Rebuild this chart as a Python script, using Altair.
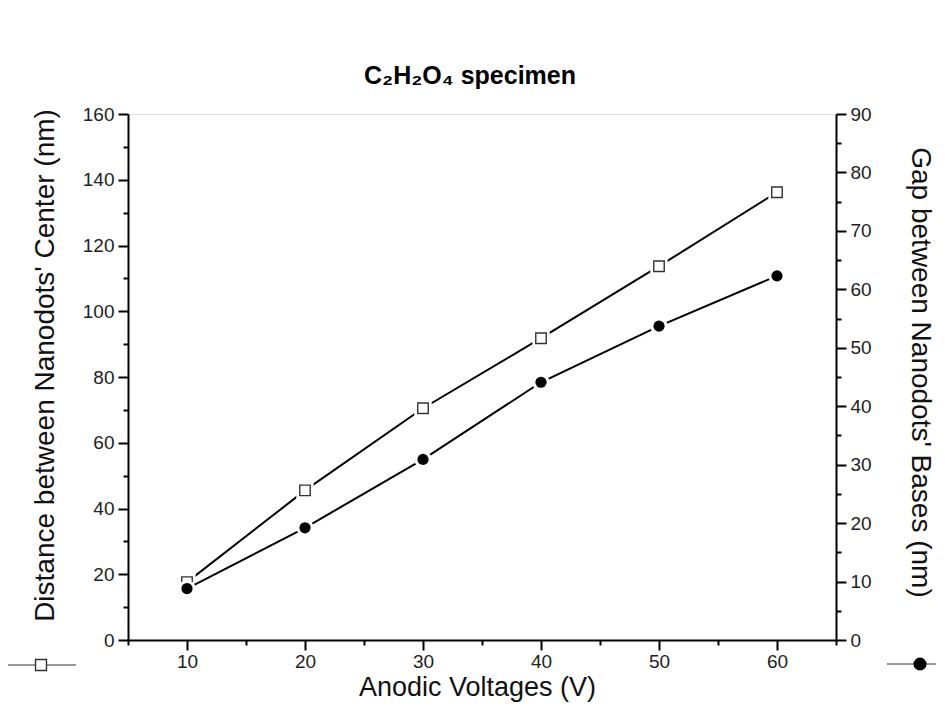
import altair as alt
import pandas as pd

# ---- data ----
voltage = [10, 20, 30, 40, 50, 60]
distance = [17.6, 45.5, 70.5, 91.8, 113.7, 136.2]   # left axis, hollow squares
gap = [8.8, 19.2, 30.9, 44.1, 53.7, 62.3]            # right axis, filled circles

x_ticks = [5, 10, 15, 20, 25, 30, 35, 40, 45, 50, 55, 60, 65]
left_ticks = [0, 10, 20, 30, 40, 50, 60, 70, 80, 90, 100, 110, 120, 130, 140, 150, 160]
right_ticks = [0, 5, 10, 15, 20, 25, 30, 35, 40, 45, 50, 55, 60, 65, 70, 75, 80, 85, 90]

title_text = "C\u2082H\u2082O\u2084 specimen"
x_title = "Anodic Voltages (V)"
left_title = "Distance between Nanodots' Center (nm)"
right_title = "Gap between Nanodots' Bases (nm)"

df = pd.DataFrame({"voltage": voltage, "distance": distance, "gap": gap})
one = pd.DataFrame({"k": [0]})

FONT = "Liberation Sans"
W, H = 708, 526


def tick_size(step):
    return {"condition": {"test": f"datum.value % {step} === 0", "value": 10}, "value": 5}


common_axis = dict(
    domainColor="black", domainWidth=2, tickColor="black", tickWidth=2,
    labelFont=FONT, labelFontSize=19, labelColor="#222",
    titleFont=FONT, titleFontWeight="normal", titleColor="#111",
    grid=False,
)

x_enc = alt.X(
    "voltage:Q",
    scale=alt.Scale(domain=[5, 65], nice=False, zero=False),
    axis=alt.Axis(
        values=x_ticks,
        labelExpr="datum.value % 10 === 0 ? datum.label : ''",
        tickSize=tick_size(10),
        labelPadding=2,
        title=x_title, titleFontSize=27, titleX=349, titleY=47,
        titleBaseline="middle", titleAlign="center",
        **common_axis,
    ),
)

y_left = alt.Y(
    "distance:Q",
    scale=alt.Scale(domain=[0, 160], nice=False),
    axis=alt.Axis(
        orient="left",
        values=left_ticks,
        labelExpr="datum.value % 20 === 0 ? datum.label : ''",
        tickSize=tick_size(20),
        labelPadding=4,
        title=left_title, titleFontSize=28, titleX=-83, titleY=251, titleAngle=-90,
        titleBaseline="middle", titleAlign="center",
        **common_axis,
    ),
)

y_right = alt.Y(
    "gap:Q",
    scale=alt.Scale(domain=[0, 90], nice=False),
    axis=alt.Axis(
        orient="right",
        values=right_ticks,
        labelExpr="datum.value % 10 === 0 ? datum.label : ''",
        tickSize=tick_size(10),
        labelPadding=4,
        title=right_title, titleFontSize=28, titleX=83, titleY=258, titleAngle=90,
        titleBaseline="middle", titleAlign="center",
        **common_axis,
    ),
)

base = alt.Chart(df)

left_line = base.mark_line(color="black", strokeWidth=2).encode(x=x_enc, y=y_left)
left_bg = base.mark_point(shape="square", size=300, filled=True, color="white", opacity=1).encode(x=x_enc, y=y_left)
left_pts = base.mark_point(shape="square", size=110, filled=False, fill="white",
                           stroke="#333", strokeWidth=1.4, opacity=1).encode(x=x_enc, y=y_left)

right_line = base.mark_line(color="black", strokeWidth=2).encode(x=x_enc, y=y_right)
right_bg = base.mark_point(shape="circle", size=300, filled=True, color="white", opacity=1).encode(x=x_enc, y=y_right)
right_pts = base.mark_point(shape="circle", size=125, filled=True, color="black", opacity=1).encode(x=x_enc, y=y_right)

# symbol keys drawn outside the plot, next to each axis
key_l_line = alt.Chart(one).mark_rule(color="#333", strokeWidth=1).encode(
    x=alt.value(-120), x2=alt.value(-52), y=alt.value(551))
key_l_pt = alt.Chart(one).mark_point(shape="square", size=120, filled=False, fill="white",
                                      stroke="#333", strokeWidth=1.4, opacity=1).encode(
    x=alt.value(-87), y=alt.value(551))
key_r_line = alt.Chart(one).mark_rule(color="#333", strokeWidth=1).encode(
    x=alt.value(759), x2=alt.value(808), y=alt.value(550))
key_r_pt = alt.Chart(one).mark_point(shape="circle", size=170, filled=True, color="black", opacity=1).encode(
    x=alt.value(792), y=alt.value(550))

left_layer = alt.layer(left_line, left_bg, left_pts)
right_layer = alt.layer(right_line, right_bg, right_pts)

chart = (
    alt.layer(left_layer, right_layer, key_l_line, key_l_pt, key_r_line, key_r_pt)
    .resolve_scale(y="independent")
    .properties(
        width=W, height=H,
        title=alt.TitleParams(title_text, font=FONT, fontSize=25, fontWeight="bold",
                              color="black", anchor="middle", dx=-12, offset=16),
        autosize=alt.AutoSizeParams(type="none"),
        padding={"left": 120, "top": 106, "right": 101, "bottom": 74},
    )
    .configure_view(stroke="black", strokeWidth=2)
    .configure(background="white")
)

chart.save("out.html", embed_options={"renderer": "svg", "actions": False})
